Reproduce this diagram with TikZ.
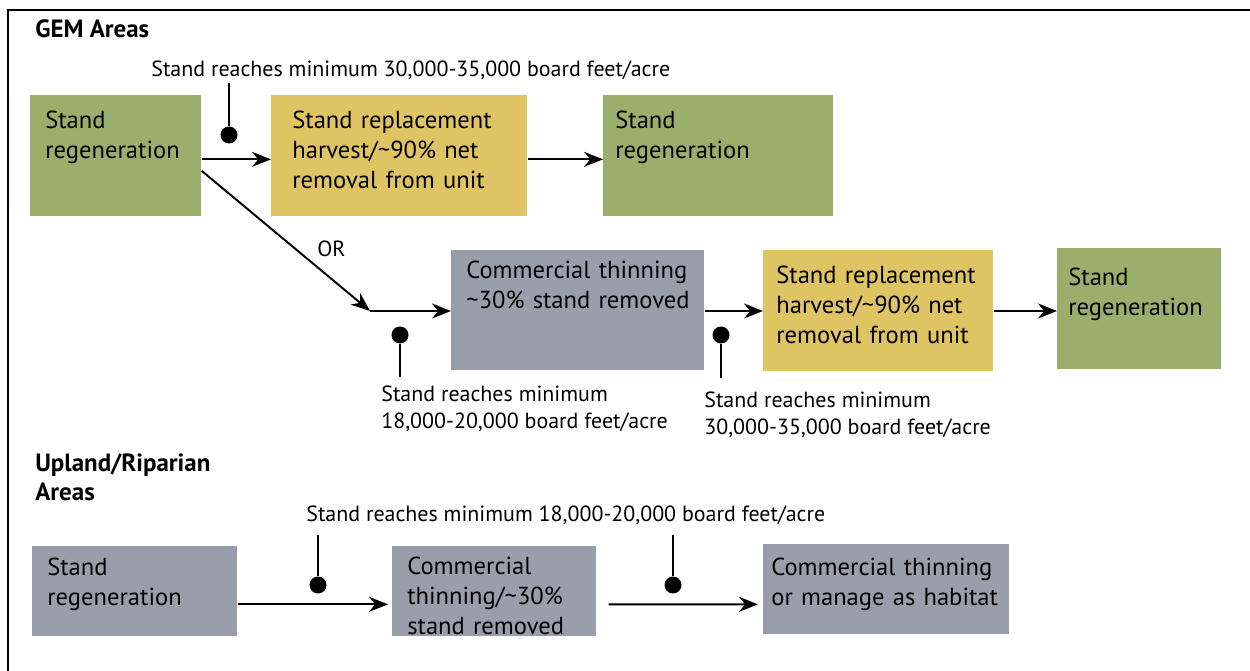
\documentclass[tikz,border=0pt]{standalone}
\usepackage{fontspec}
\setmainfont{PT Sans}
\usetikzlibrary{arrows.meta}
\definecolor{regen}{HTML}{9AAF6B}
\definecolor{harvest}{HTML}{DEC463}
\definecolor{thin}{HTML}{989FAB}
\begin{document}
\begin{tikzpicture}
[x=0.02cm,y=-0.02cm,%
  stage/.style={anchor=north west,inner sep=0pt,align=left,%
    text height=0.66cm,text depth=1.76cm,font=\fontsize{14}{17}\selectfont,%
    execute at begin node={\leftskip=0.3cm\rightskip=-2cm plus 1fil\hyphenpenalty=10000\relax}},%
  pad/.style={execute at begin node={\leftskip=#1\relax}},%
  note/.style={anchor=base west,inner sep=0pt,align=left,font=\fontsize{12.5}{15.5}\selectfont},%
  area/.style={note,font=\fontsize{14.2}{17}\selectfont\bfseries},%
  flow/.style={-{Stealth[length=0.38cm,width=0.3cm]},line width=1.1pt},%
  pin/.style={line width=1.1pt},%
  dot/.style={circle,fill,inner sep=0pt,minimum size=0.34cm}]
\useasboundingbox (0,0) rectangle (1250,671);
\draw[line width=1.2pt] (1250,10) -- (8,10) -- (8,671);

\node[area] (gem) at (35,38) {GEM Areas};
\node[stage,fill=regen,text width=3.42cm] (a1) at (30,95) {Stand\\regeneration};
\node[stage,fill=harvest,text width=5.12cm,pad=0.42cm] (a2) at (271,95) {Stand replacement\\harvest/\textasciitilde90\% net\\removal from unit};
\node[stage,fill=regen,text width=4.6cm,pad=0.24cm] (a3) at (603,95) {Stand\\regeneration};
\node[note] (ta) at (151,77) {Stand reaches minimum 30,000-35,000 board feet/acre};
\coordinate (pa) at (229,83);
\node[dot] (da) at (229,135) {};
\draw[pin] (pa) -- (da);
\draw[flow] ([yshift=-0.07cm]a1.east) -- ([yshift=-0.07cm]a2.west);
\draw[flow] ([yshift=-0.07cm]a2.east) -- ([yshift=-0.07cm]a3.west);

\coordinate (fork) at (370,311);
\node[note] (or) at (317,257) {OR};
\node[stage,fill=thin,text width=5.06cm,text height=0.57cm,text depth=1.83cm] (b1) at (451,250) {Commercial thinning\\\textasciitilde30\% stand removed};
\node[stage,fill=harvest,text width=4.6cm,text depth=1.76cm,pad=0.26cm] (b2) at (763,250) {Stand replacement\\harvest/\textasciitilde90\% net\\removal from unit};
\node[stage,fill=regen,text width=3.28cm,text height=0.74cm,text depth=1.68cm,pad=0.22cm] (b3) at (1057,248) {Stand\\regeneration};
\draw[flow] ([yshift=-0.3cm]a1.east) -- (fork);
\draw[flow] (fork) -- (b1.west |- fork);
\draw[flow] (b1.east |- fork) -- (b2.west |- fork);
\draw[flow] (b2.east |- fork) -- (b3.west |- fork);
\node[dot] (db) at (400,335) {};
\coordinate (pb) at (400,377);
\draw[pin] (db) -- (pb);
\node[note] (tb) at (381,429) {Stand reaches minimum\\18,000-20,000 board feet/acre};
\node[dot] (dc) at (721,335) {};
\coordinate (pc) at (721,378);
\draw[pin] (dc) -- (pc);
\node[note] (tc) at (704,435) {Stand reaches minimum\\30,000-35,000 board feet/acre};

\node[area] (upland) at (35,501) {Upland/Riparian\\Areas};
\node[stage,fill=thin,text width=4.1cm,text height=0.58cm,text depth=1.22cm] (c1) at (32,546) {Stand\\regeneration};
\node[stage,fill=thin,text width=4.08cm,text height=0.56cm,text depth=1.24cm] (c2) at (392,546) {Commercial\\thinning/\textasciitilde30\%\\stand removed};
\node[stage,fill=thin,text width=4.92cm,text height=0.62cm,text depth=1.18cm,pad=0.16cm] (c3) at (763,544) {Commercial thinning\\or manage as habitat};
\node[note] (td) at (306,521) {Stand reaches minimum 18,000-20,000 board feet/acre};
\coordinate (pd) at (318,535);
\node[dot] (dd) at (318,585) {};
\draw[pin] (pd) -- (dd);
\coordinate (pe) at (673,535);
\node[dot] (de) at (673,585) {};
\draw[pin] (pe) -- (de);
\draw[flow,shorten >=0.08cm] ([yshift=-0.26cm]c1.east) -- ([yshift=-0.26cm]c2.west);
\draw[flow,shorten >=0.1cm] ([xshift=0.24cm,yshift=-0.26cm]c2.east) -- ([yshift=-0.3cm]c3.west);
\end{tikzpicture}
\end{document}
